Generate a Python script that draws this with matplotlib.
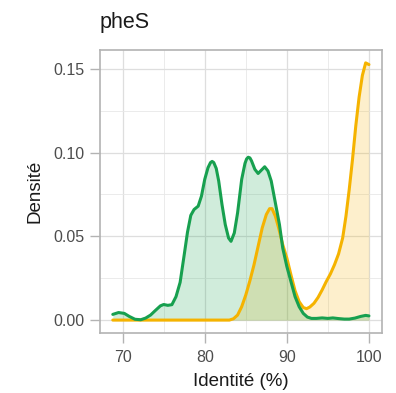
import matplotlib
matplotlib.use("Agg")
import matplotlib.pyplot as plt
from matplotlib.ticker import MultipleLocator

plt.rcParams['font.family'] = ['Liberation Sans', 'DejaVu Sans']

# density curves
green_x = [68.8, 69.5, 70.2, 70.8, 71.5, 72.2, 72.8, 73.4, 74.0, 74.6, 75.0, 75.5,
           76.0, 76.5, 77.0, 77.5, 77.9, 78.3, 78.7, 79.2, 79.6, 80.0, 80.4, 80.7,
           80.9, 81.1, 81.4, 81.7, 82.1, 82.5, 82.9, 83.2, 83.6, 84.0, 84.5, 84.9,
           85.1, 85.3, 85.5, 85.7, 86.1, 86.5, 86.9, 87.3, 87.7, 88.1, 88.6, 89.1,
           89.5, 90.0, 90.5, 91.0, 91.5, 92.0, 92.5, 93.0, 93.6, 94.3, 95.0, 95.6,
           96.3, 97.0, 97.6, 98.3, 99.0, 99.6, 100.0]
green_y = [0.0034, 0.0045, 0.0040, 0.0022, 0.0005, 0.0002, 0.0012, 0.0030, 0.0058,
           0.0085, 0.0093, 0.0088, 0.0092, 0.0140, 0.0225, 0.0390, 0.0525, 0.0625,
           0.0660, 0.0680, 0.0740, 0.0840, 0.0910, 0.0940, 0.0947, 0.0940, 0.0905,
           0.0830, 0.0690, 0.0570, 0.0490, 0.0470, 0.0520, 0.0640, 0.0840, 0.0935,
           0.0962, 0.0972, 0.0968, 0.0950, 0.0900, 0.0875, 0.0895, 0.0915, 0.0890,
           0.0830, 0.0700, 0.0570, 0.0430, 0.0320, 0.0230, 0.0140, 0.0080, 0.0040,
           0.0018, 0.0010, 0.0010, 0.0013, 0.0010, 0.0013, 0.0009, 0.0006, 0.0006,
           0.0012, 0.0022, 0.0028, 0.0025]

orange_x = [68.8, 83.0, 83.5, 84.0, 84.5, 85.0, 85.5, 86.0, 86.5, 87.0, 87.5, 87.9,
            88.2, 88.6, 89.0, 89.5, 90.0, 90.5, 91.0, 91.5, 92.0, 92.4, 92.8, 93.3,
            93.8, 94.3, 94.8, 95.3, 95.8, 96.3, 96.8, 97.2, 97.6, 98.0, 98.4, 98.8,
            99.2, 99.6, 100.0]
orange_y = [0.0, 0.0, 0.0008, 0.0030, 0.0080, 0.0150, 0.0235, 0.0330, 0.0440, 0.0550,
            0.0630, 0.0665, 0.0665, 0.0620, 0.0550, 0.0450, 0.0370, 0.0270, 0.0175,
            0.0110, 0.0075, 0.0068, 0.0078, 0.0100, 0.0135, 0.0180, 0.0230, 0.0275,
            0.0330, 0.0395, 0.0490, 0.0620, 0.0780, 0.0960, 0.1160, 0.1330, 0.1460,
            0.1535, 0.1525]

x_ticks = [70, 80, 90, 100]
y_ticks = [0.00, 0.05, 0.10, 0.15]
y_tick_labels = ['0.00', '0.05', '0.10', '0.15']

green = '#17a04f'
orange = '#f5b300'

fig = plt.figure(figsize=(3.96, 3.93), dpi=100)
ax = fig.add_axes([0.2525, 0.1527, 0.7115, 0.7201])

ax.fill_between(orange_x, orange_y, color=orange, alpha=0.2, linewidth=0)
ax.plot(orange_x, orange_y, color=orange, linewidth=2.2, solid_capstyle='round',
        solid_joinstyle='round')
ax.fill_between(green_x, green_y, color=green, alpha=0.2, linewidth=0)
ax.plot(green_x, green_y, color=green, linewidth=2.2, solid_capstyle='round',
        solid_joinstyle='round')

ax.set_xlim(67.24, 101.56)
ax.set_ylim(-0.0077, 0.1612)
ax.set_xticks(x_ticks)
ax.set_yticks(y_ticks)
ax.set_yticklabels(y_tick_labels)
ax.xaxis.set_minor_locator(MultipleLocator(5))
ax.yaxis.set_minor_locator(MultipleLocator(0.025))

ax.set_axisbelow(True)
ax.grid(which='major', color='#dedede', linewidth=0.9)
ax.grid(which='minor', color='#e8e8e8', linewidth=0.6)
for s in ax.spines.values():
    s.set_color('#b3b3b3')
    s.set_linewidth(1.2)

ax.tick_params(which='major', length=7, width=1, color='#b3b3b3',
               labelsize=11.5, labelcolor='#4d4d4d', pad=4)
ax.tick_params(axis='x', which='major', pad=5.5)
ax.tick_params(which='minor', length=0)

ax.set_xlabel('Identité (%)', fontsize=13.5, color='#1a1a1a', labelpad=5.5)
ax.set_ylabel('Densité', fontsize=13.5, color='#1a1a1a', labelpad=7)
fig.text(0.2525, 0.929, 'pheS', fontsize=15.5, color='#1a1a1a',
         va='baseline', ha='left')

fig.savefig('out.png', dpi=100)
